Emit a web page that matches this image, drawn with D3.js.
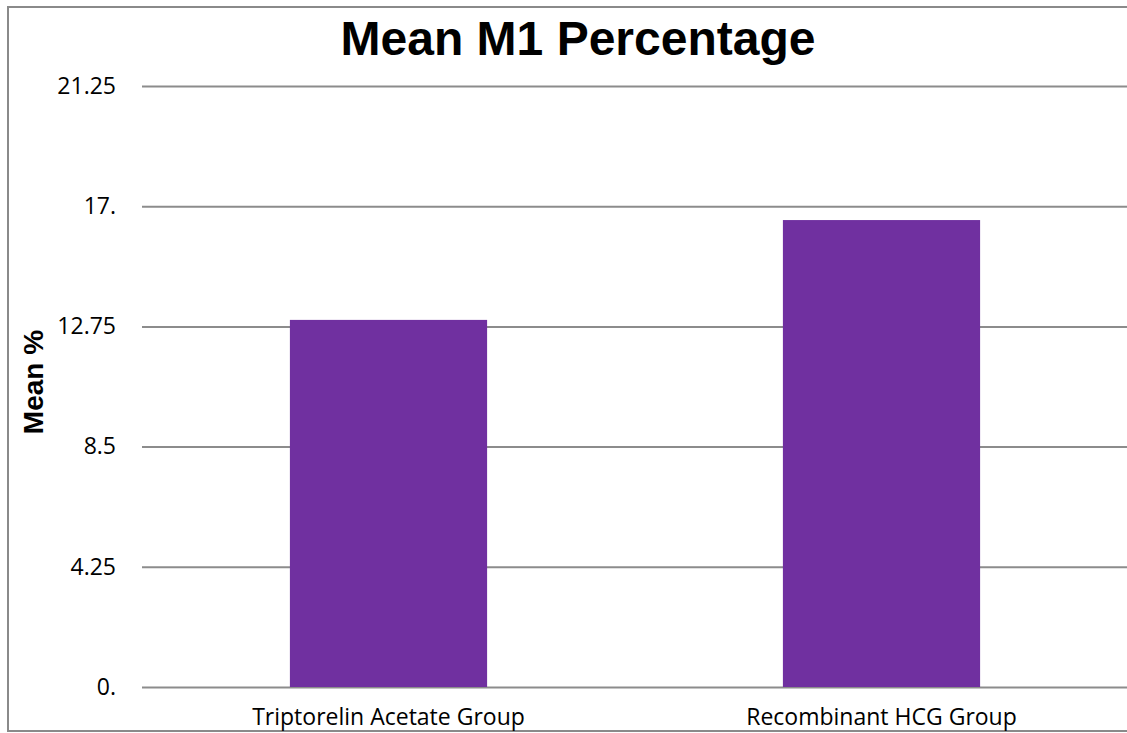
<!DOCTYPE html>
<html>
<head>
<meta charset="utf-8">
<script src="https://cdn.jsdelivr.net/npm/d3@7"></script>
<style>
  html, body { margin: 0; padding: 0; background: #fff; overflow: hidden; }
  svg { display: block; }
</style>
</head>
<body>
<svg id="chart" width="1127" height="733"></svg>
<script>
// Chart data
const categories = ["Triptorelin Acetate Group", "Recombinant HCG Group"];
const meanValues = [12.98, 16.51];
const tickValues = [0, 4.25, 8.5, 12.75, 17, 21.25];
const tickLabels = ["0.", "4.25", "8.5", "12.75", "17.", "21.25"];
const chartTitle = "Mean M1 Percentage";
const yAxisTitle = "Mean %";

const svg = d3.select("#chart");
const plot = { left: 142, right: 1128, top: 86, bottom: 687 };

// Outer frame (left, top and bottom edges visible)
svg.append("rect")
  .attr("x", 8).attr("y", 7)
  .attr("width", 1135).attr("height", 724)
  .attr("fill", "none")
  .attr("stroke", "#8a8a8a")
  .attr("stroke-width", 2);

const x = d3.scaleBand()
  .domain(categories)
  .range([plot.left, plot.right])
  .paddingInner(0.6)
  .paddingOuter(0.3);

const y = d3.scaleLinear()
  .domain([0, 21.25])
  .range([plot.bottom, plot.top]);

// Horizontal gridlines with labels
const yAxis = d3.axisLeft(y)
  .tickValues(tickValues)
  .tickSize(-(plot.right - plot.left))
  .tickPadding(26)
  .tickFormat((d, i) => tickLabels[i]);

const gy = svg.append("g")
  .attr("transform", `translate(${plot.left},0)`)
  .call(yAxis);
gy.select(".domain").remove();
gy.selectAll(".tick line")
  .attr("stroke", "#8c8c8c")
  .attr("stroke-width", 2);
gy.selectAll(".tick text")
  .attr("fill", "#000")
  .style("font-family", "'Open Sans', sans-serif")
  .style("font-size", "23px");

// Bars
svg.append("g")
  .selectAll("rect")
  .data(categories)
  .join("rect")
  .attr("x", d => x(d))
  .attr("width", x.bandwidth())
  .attr("y", (d, i) => y(meanValues[i]))
  .attr("height", (d, i) => y(0) - y(meanValues[i]))
  .attr("fill", "#7030A0");

// Category labels
const xAxis = d3.axisBottom(x).tickSize(0).tickPadding(22);
const gx = svg.append("g")
  .attr("transform", `translate(0,${plot.bottom})`)
  .call(xAxis);
gx.select(".domain").remove();
gx.selectAll(".tick text")
  .attr("fill", "#000")
  .style("font-family", "'Open Sans', sans-serif")
  .style("font-size", "23px");

// Title
svg.append("text")
  .attr("x", 578)
  .attr("y", 55)
  .attr("text-anchor", "middle")
  .style("font-family", "'Liberation Sans', Arial, sans-serif")
  .style("font-weight", "bold")
  .style("font-size", "48px")
  .text(chartTitle);

// Y axis title
svg.append("text")
  .attr("transform", "translate(43,382) rotate(-90)")
  .attr("text-anchor", "middle")
  .style("font-family", "'Liberation Sans', Arial, sans-serif")
  .style("font-weight", "bold")
  .style("font-size", "28px")
  .text(yAxisTitle);
</script>
</body>
</html>
